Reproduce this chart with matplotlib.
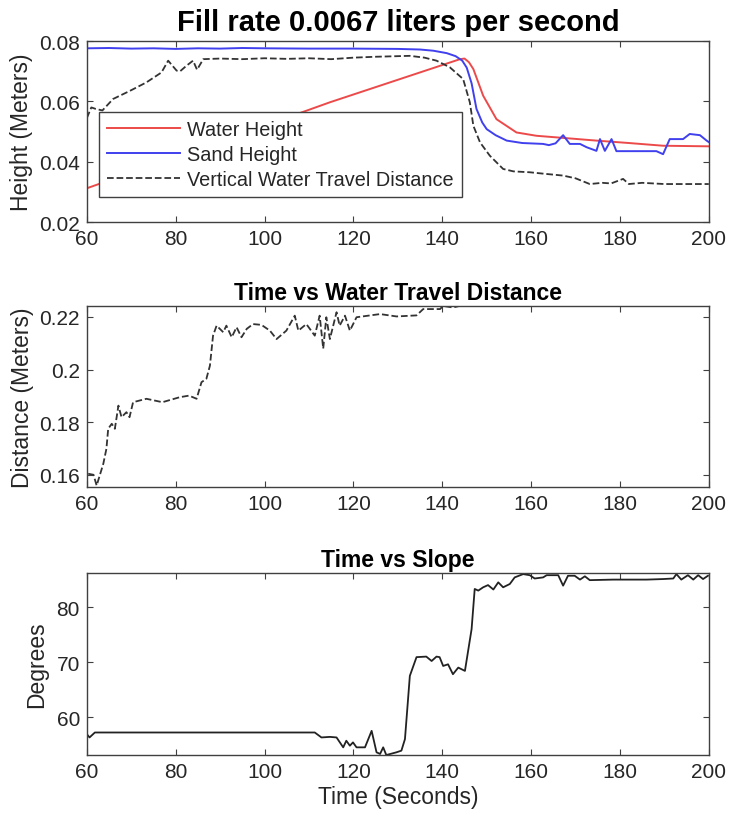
import matplotlib
matplotlib.use("Agg")
import matplotlib.pyplot as plt

plt.rcParams["font.family"] = ["Liberation Sans", "DejaVu Sans"]

# ---- top panel: heights ----
water_t = [60, 109.4, 114.7, 144.0, 145.0, 146.0, 147.0, 149.2, 152.2, 156.7,
           161.2, 168.0, 174.7, 182.0, 189.7, 200]
water_h = [0.0312, 0.0569, 0.0597, 0.0740, 0.0742, 0.0730, 0.0707, 0.0619, 0.0541, 0.0497,
           0.0486, 0.0478, 0.0470, 0.0462, 0.0453, 0.0451]

sand_t = [60, 65, 70, 75, 80, 85, 90, 95, 100, 110, 120, 130, 135, 138, 141, 143,
          144.5, 145.5, 146.6, 147.7, 149, 150, 152, 154.5, 158, 162.7, 164, 165.5,
          167.2, 168.7, 171, 172.5, 174.7, 175.5, 176.6, 178.1, 179.2, 185, 188.2,
          189.7, 191.2, 194.2, 195.7, 198, 199.5, 200]
sand_h = [0.0776, 0.0777, 0.0775, 0.0776, 0.0774, 0.0776, 0.0775, 0.0777, 0.0776,
          0.0775, 0.0775, 0.0774, 0.0772, 0.0768, 0.0760, 0.0750, 0.0735, 0.0712,
          0.0660, 0.0575, 0.0530, 0.0508, 0.0488, 0.0470, 0.0462, 0.0459, 0.0455,
          0.0461, 0.0488, 0.0459, 0.0459, 0.0448, 0.0436, 0.0475, 0.0436, 0.0475,
          0.0435, 0.0435, 0.0435, 0.0425, 0.0475, 0.0475, 0.0492, 0.0488, 0.0470, 0.0465]

vert_t = [60, 61, 62, 63.5, 65.9, 69.7, 73.4, 76.8, 78.3, 80.2, 81, 82.4, 83.9, 84.8,
          86.2, 90, 95, 100, 105, 110, 115, 120, 125, 132.7, 136, 138.7, 141.7, 144.7,
          146.2, 147, 148.5, 150.7, 153.7, 156, 159.7, 163, 167.2, 170, 173.2, 176,
          178, 180.7, 182, 185, 190, 195, 200]
vert_d = [0.0545, 0.0580, 0.0575, 0.0570, 0.0608, 0.0635, 0.0663, 0.0696, 0.0735,
          0.0702, 0.0700, 0.0718, 0.0735, 0.0705, 0.0740, 0.0742, 0.0740, 0.0743,
          0.0741, 0.0743, 0.0740, 0.0745, 0.0748, 0.0751, 0.0745, 0.0735, 0.0713,
          0.0674, 0.0597, 0.0519, 0.0464, 0.0420, 0.0376, 0.0368, 0.0365, 0.0360,
          0.0354, 0.0345, 0.0326, 0.0330, 0.0328, 0.0343, 0.0326, 0.0330, 0.0326,
          0.0326, 0.0326]

# ---- middle panel: water travel distance ----
dist_t = [60.3, 61.5, 62.2, 63.7, 64.4, 64.8, 65.6, 66.3, 67.1, 67.8, 68.9, 69.6, 70.4,
          73.4, 77, 80.9, 83, 84.7, 85.8, 86.9, 87.7, 88.4, 89.2, 90.7, 91.4, 92.6,
          93.7, 94.8, 96, 97.4, 99.3, 101.2, 102.7, 104.9, 106.8, 107.6, 109.4, 111.3,
          112.4, 113.2, 113.9, 114.7, 116.2, 116.9, 118.1, 119.2, 120.7, 126, 129.7,
          134.2, 135.7, 139.5, 140.2, 142.4, 143.9, 146.2, 200]
dist_m = [0.1604, 0.1600, 0.1559, 0.1642, 0.1699, 0.1775, 0.1794, 0.1775, 0.1863,
          0.1819, 0.1838, 0.1819, 0.1876, 0.1889, 0.1876, 0.1895, 0.1901, 0.1889,
          0.1952, 0.1965, 0.2015, 0.2129, 0.2167, 0.2142, 0.2167, 0.2123, 0.2161,
          0.2123, 0.2155, 0.2173, 0.2170, 0.2148, 0.2116, 0.2148, 0.2205, 0.2148,
          0.2173, 0.2129, 0.2205, 0.2080, 0.2199, 0.2116, 0.2218, 0.2167, 0.2205,
          0.2148, 0.2199, 0.2211, 0.2202, 0.2206, 0.2230, 0.2230, 0.2242, 0.2236,
          0.2242, 0.2242, 0.2242]

# ---- bottom panel: slope ----
slope_t = [60.0, 60.6, 61.8, 111.3, 112.8, 114.7, 116.2, 117.7, 118.4, 119.2, 119.9,
           120.7, 122.6, 124.1, 125.2, 126.0, 126.7, 127.4, 129.7, 130.8, 131.6, 132.3,
           132.7, 134.2, 136.4, 137.6, 138.7, 139.4, 140.2, 141.3, 142.4, 143.6, 145.1,
           146.6, 147.3, 148.1, 149.2, 150.3, 151.5, 152.6, 153.7, 155.2, 156.3, 158.2,
           159.7, 160.8, 162.7, 163.5, 166.1, 167.2, 168.3, 169.8, 171.0, 172.1, 173.2,
           178.5, 186.0, 189.7, 192.0, 192.7, 193.8, 195.3, 196.5, 197.6, 198.7, 199.8]
slope_deg = [56.9, 56.3, 57.2, 57.2, 56.3, 56.4, 56.3, 54.5, 55.7, 54.8, 55.4, 54.5,
             54.5, 57.5, 53.6, 53.3, 54.5, 53.1, 53.6, 53.9, 56.0, 63.3, 67.5, 70.9,
             71.0, 70.2, 71.0, 70.9, 69.3, 69.6, 67.8, 69.0, 68.4, 76.0, 83.3, 83.0,
             83.6, 84.0, 83.2, 84.5, 83.6, 84.2, 85.4, 86.0, 85.8, 85.2, 85.4, 85.8,
             85.8, 83.9, 85.7, 85.7, 85.0, 85.6, 84.9, 85.0, 85.0, 85.1, 85.2, 86.0,
             85.0, 85.8, 85.0, 85.8, 85.1, 85.7]

EDGE = "#404040"
TXT = "#262626"

fig = plt.figure(figsize=(7.3, 8.2), dpi=100)
ax1 = fig.add_axes([0.119, 0.728, 0.852, 0.2207])
ax2 = fig.add_axes([0.119, 0.405, 0.852, 0.2207])
ax3 = fig.add_axes([0.119, 0.078, 0.852, 0.222])


def style(ax):
    ax.set_xlim(60, 200)
    ax.set_xticks([60, 80, 100, 120, 140, 160, 180, 200])
    ax.tick_params(direction="in", top=True, right=True, length=4, width=0.8,
                   colors=EDGE, labelcolor=TXT, labelsize=15, pad=5)
    for s in ax.spines.values():
        s.set_color(EDGE)
        s.set_linewidth(1.0)


ax1.plot(water_t, water_h, color="#ec4a4a", lw=1.4, label="Water Height")
ax1.plot(sand_t, sand_h, color="#4040ee", lw=1.4, label="Sand Height")
ax1.plot(vert_t, vert_d, "--", color="#333333", lw=1.3, label="Vertical Water Travel Distance")
style(ax1)
ax1.set_ylim(0.02, 0.08)
ax1.set_yticks([0.02, 0.04, 0.06, 0.08])
ax1.set_yticklabels(["0.02", "0.04", "0.06", "0.08"])
ax1.set_ylabel("Height (Meters)", fontsize=16.5, color=TXT, labelpad=4)
ax1.set_title("Fill rate 0.0067 liters per second", fontsize=21, fontweight="bold", pad=8)
leg = ax1.legend(loc="upper left", bbox_to_anchor=(0.0193, 0.608), borderaxespad=0,
                 fontsize=14.3, fancybox=False, framealpha=1, edgecolor=EDGE,
                 handlelength=3.7, handletextpad=0.35, labelspacing=0.3, borderpad=0.4)
leg.get_frame().set_linewidth(1.0)
for t in leg.get_texts():
    t.set_color(TXT)

ax2.plot(dist_t, dist_m, "--", color="#333333", lw=1.3)
style(ax2)
ax2.set_ylim(0.1554, 0.2242)
ax2.set_yticks([0.16, 0.18, 0.2, 0.22])
ax2.set_yticklabels(["0.16", "0.18", "0.2", "0.22"])
ax2.set_ylabel("Distance (Meters)", fontsize=16.5, color=TXT, labelpad=4)
ax2.set_title("Time vs Water Travel Distance", fontsize=16.5, fontweight="bold", pad=5)

ax3.plot(slope_t, slope_deg, color="#222222", lw=1.3)
style(ax3)
ax3.set_ylim(53.1, 86.2)
ax3.set_yticks([60, 70, 80])
ax3.set_ylabel("Degrees", fontsize=16.5, color=TXT, labelpad=6)
ax3.set_xlabel("Time (Seconds)", fontsize=16.5, color=TXT, labelpad=3)
ax3.set_title("Time vs Slope", fontsize=16.5, fontweight="bold", pad=5)

fig.savefig("out.png", dpi=100)
